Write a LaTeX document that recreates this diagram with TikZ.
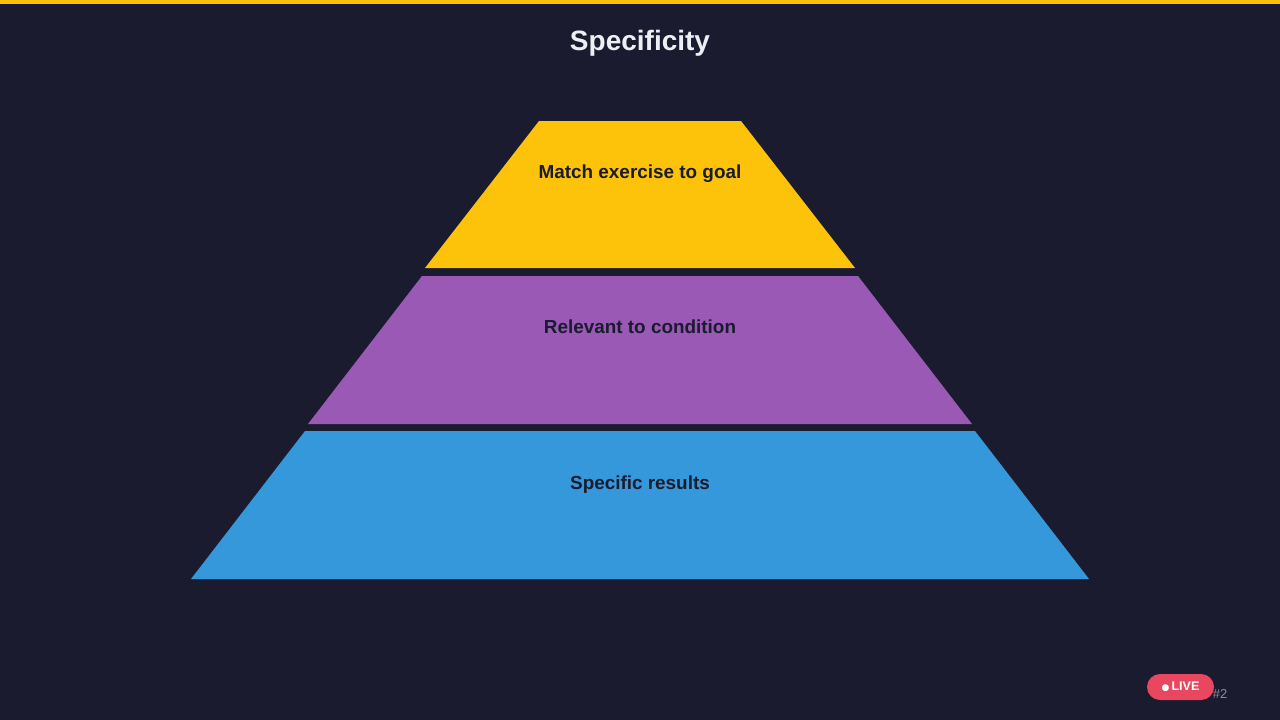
\documentclass[tikz,border=0pt]{standalone}
\usepackage{fontspec}
\setmainfont{Liberation Sans}
\newfontfamily\symfont{DejaVu Sans}
\definecolor{bg}{HTML}{1A1B2E}
\definecolor{gold}{HTML}{FDC20A}
\definecolor{purp}{HTML}{9B59B6}
\definecolor{blu}{HTML}{3498DB}
\definecolor{txtdark}{HTML}{1A1B2E}
\definecolor{titlec}{HTML}{ECEFF4}
\definecolor{livec}{HTML}{E8475F}
\definecolor{numc}{HTML}{8A8D9E}
\tikzset{
  tier/.style={draw=none},
  tierlabel/.style={text=txtdark, font=\fontsize{18.9}{22}\selectfont\bfseries, anchor=base, inner sep=0pt},
  titletext/.style={text=titlec, font=\fontsize{28}{32}\selectfont\bfseries, anchor=base, inner sep=0pt},
}
\begin{document}
\begin{tikzpicture}[x=1pt,y=-1pt]
\useasboundingbox (0,0) rectangle (1280,720);
\fill[bg] (0,0) rectangle (1280,720);
\fill[gold] (0,0) rectangle (1280,4);
\node[titletext] (title) at (640,50) {Specificity};
% tiers
\fill[gold] (539,121) -- (741,121) -- (855,268) -- (425,268) -- cycle;
\fill[purp] (422,276) -- (858,276) -- (972,424) -- (308,424) -- cycle;
\fill[blu] (305,431) -- (975,431) -- (1089,579) -- (191,579) -- cycle;
\node[tierlabel] (l1) at (640,178) {Match exercise to goal};
\node[tierlabel] (l2) at (640,333) {Relevant to condition};
\node[tierlabel] (l3) at (640,489) {Specific results};
% live badge
\fill[livec, rounded corners=13pt] (1147,674) rectangle (1214,700);
\node[text=white, font=\fontsize{12.5}{14}\selectfont\bfseries, inner sep=0pt] (live) at (1180.5,687) {{\symfont\fontsize{9}{9}\selectfont ●}\,LIVE};
\node[text=numc, font=\fontsize{13}{15}\selectfont, inner sep=0pt] (num) at (1220,694) {\#2};
\end{tikzpicture}
\end{document}
